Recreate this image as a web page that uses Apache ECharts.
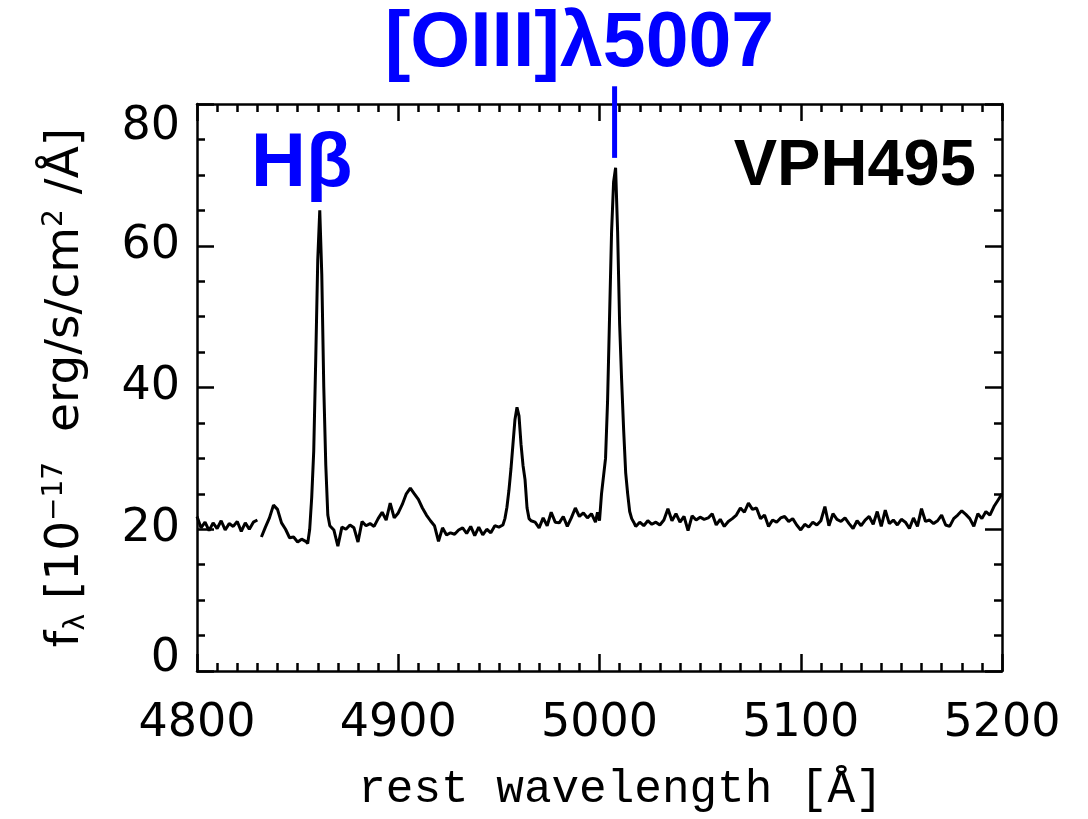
<!DOCTYPE html>
<html>
<head>
<meta charset="utf-8">
<script src="https://cdn.jsdelivr.net/npm/echarts@6/dist/echarts.min.js"></script>
<style>
html,body{margin:0;padding:0;background:#fff;}
#chart{width:1088px;height:819px;}
</style>
</head>
<body>
<div id="chart"></div>
<script>
// ---- data ----
const wavelength = [
4800,4802,4804,4806,4808,4810,4812,4814,4816,4818,4820,4822,4824,4826,4828,4830,4831,
4832,4834,4836,4838,4840,4842,4844,4846,4848,4850,4852,4854,4855,4856,4857,4858,4859,
4860,4861,4862,4863,4864,4865,4866,4868,4870,4872,4874,4876,4878,4880,4882,4884,4886,
4888,4890,4892,4894,4896,4898,4900,4902,4904,4906,4908,4910,4912,4914,4916,4918,4920,
4922,4924,4926,4928,4930,4932,4934,4936,4938,4940,4942,4944,4946,4948,4950,4952,4953,
4954,4955,4956,4957,4958,4959,4960,4961,4962,4963,4964,4965,4966,4968,4970,4972,4974,
4976,4978,4980,4982,4984,4986,4988,4990,4992,4994,4996,4998,4999,5000,5001,5002,5003,
5004,5005,5006,5007,5008,5009,5010,5011,5012,5013,5014,5015,5016,5017,5018,
5020,5022,5024,5026,5028,5030,5032,5034,5036,5038,5040,5042,5044,5046,5048,5050,5052,
5054,5056,5058,5060,5062,5064,5066,5068,5070,5072,5074,5076,5078,5080,5082,5084,5086,
5088,5090,5092,5094,5096,5098,5100,5102,5104,5106,5108,5110,5112,5114,5116,5118,5120,
5122,5124,5126,5128,5130,5132,5134,5136,5138,5140,5142,5144,5146,5148,5150,5152,5154,
5156,5158,5160,5162,5164,5166,5168,5170,5172,5174,5176,5178,5180,5182,5184,5186,5188,
5190,5192,5194,5196,5198,5200
];
const flux = [
21.8,20.2,21.0,19.8,20.9,20.1,21.2,19.9,20.8,20.4,21.1,19.7,20.9,20.0,21.0,21.3,null,
18.9,20.3,21.6,23.4,22.8,20.9,20.0,18.8,18.9,18.2,18.6,18.3,18.0,20.0,24.5,31.0,44.0,
58.0,65.0,56.0,40.0,29.0,22.0,20.5,19.9,17.6,20.3,20.0,20.6,20.2,18.2,21.1,20.5,20.8,
20.4,21.5,22.4,21.3,23.7,21.6,22.3,23.5,25.0,25.8,25.0,24.2,23.0,22.0,21.2,20.5,18.3,
20.2,19.2,19.5,19.3,19.9,20.2,19.4,20.4,19.1,20.3,19.2,20.0,19.5,20.5,20.3,20.6,21.5,
23.1,25.5,28.5,32.0,35.5,37.2,36.0,32.0,29.0,27.0,23.0,21.5,21.2,21.0,20.2,21.6,20.5,
22.4,21.0,20.9,21.8,20.4,21.6,23.0,21.8,22.3,21.6,22.2,21.0,22.4,21.2,25.0,27.5,30.0,
38.0,50.0,62.0,69.0,71.0,62.0,49.0,41.0,34.0,28.0,25.0,22.5,21.5,21.0,20.4,
21.0,20.5,21.2,20.7,21.0,20.6,21.3,22.9,21.2,22.2,21.0,21.8,19.8,21.9,21.3,21.7,21.4,
21.6,22.2,20.6,21.4,20.4,21.1,21.5,22.0,23.0,22.4,23.7,22.8,23.0,21.5,22.0,20.4,21.3,
21.0,21.6,21.8,21.1,21.5,20.6,19.9,20.7,20.3,21.0,20.6,21.2,23.2,20.5,22.2,21.4,21.1,
21.6,20.8,20.1,21.2,20.5,21.3,21.8,20.7,22.5,20.4,22.7,20.8,21.3,20.6,21.4,21.0,20.1,
21.6,20.4,22.9,21.1,21.3,20.8,21.2,22.0,20.6,20.4,21.5,22.0,22.6,22.1,21.5,20.4,22.2,
21.5,22.5,22.0,23.2,24.1,25.0
];
const xTicks = [4800, 4900, 5000, 5100, 5200];
const yTicks = [0, 20, 40, 60, 80];
const lineNames = ['Hβ', '[OIII]λ5007'];
const lineWavelengths = [4861, 5007.5];
const panelName = 'VPH495';

// ---- chart ----
const spectrum = wavelength.map((w, i) => [w, flux[i]]);
const BLUE = '#0000ff';
const axisCommon = {
  type: 'value',
  axisLine: { show: true, onZero: false, lineStyle: { color: '#000', width: 2.5 } },
  axisTick: { show: true, inside: true, length: 17, lineStyle: { color: '#000', width: 2.5 } },
  minorTick: { show: true, length: 8, lineStyle: { color: '#000', width: 2.5 } },
  splitLine: { show: false },
  minorSplitLine: { show: false }
};
const chart = echarts.init(document.getElementById('chart'), null, { renderer: 'canvas' });
chart.setOption({
  animation: false,
  backgroundColor: '#fff',
  grid: { left: 197, right: 86, top: 104, bottom: 148 },
  xAxis: [
    Object.assign({}, axisCommon, {
      position: 'bottom', min: xTicks[0], max: xTicks[xTicks.length - 1], interval: 100,
      minorTick: Object.assign({}, axisCommon.minorTick, { splitNumber: 10 }),
      axisLabel: { show: true, fontSize: 46, color: '#000', margin: 30, fontFamily: 'DejaVu Sans',
        formatter: v => String(v) },
      name: 'rest wavelength [Å]', nameLocation: 'middle', nameGap: 96,
      nameTextStyle: { fontSize: 46, color: '#000', fontFamily: 'Liberation Mono', padding: [0, 0, 0, 42] }
    }),
    Object.assign({}, axisCommon, {
      position: 'top', min: xTicks[0], max: xTicks[xTicks.length - 1], interval: 100,
      minorTick: Object.assign({}, axisCommon.minorTick, { splitNumber: 10 }),
      axisLabel: { show: false }
    })
  ],
  yAxis: [
    Object.assign({}, axisCommon, {
      position: 'left', min: yTicks[0], max: yTicks[yTicks.length - 1], interval: 20,
      minorTick: Object.assign({}, axisCommon.minorTick, { splitNumber: 4 }),
      axisLabel: { show: true, fontSize: 46, color: '#000', margin: 17, fontFamily: 'DejaVu Sans',
        verticalAlignMaxLabel: 'top', verticalAlignMinLabel: 'bottom',
        formatter: v => (v === yTicks[0] ? '{z|' + v + '}' : String(v)),
        rich: { z: { fontSize: 46, lineHeight: 24, fontFamily: 'DejaVu Sans', color: '#000' } } },
      name: '{a|f}{s|λ}{a| [10}{p|−17}{a|  erg/s/cm}{p|2}{a| /Å]}',
      nameLocation: 'middle', nameGap: 106, nameRotate: 90,
      nameTextStyle: {
        color: '#000', fontFamily: 'DejaVu Sans', fontSize: 47,
        rich: {
          a: { fontSize: 47, fontFamily: 'DejaVu Sans', color: '#000' },
          s: { fontSize: 28, fontFamily: 'DejaVu Sans', color: '#000', verticalAlign: 'bottom', padding: [22, 0, 0, 0] },
          p: { fontSize: 28, fontFamily: 'DejaVu Sans', color: '#000', verticalAlign: 'top', padding: [0, 0, 20, 0] }
        }
      }
    }),
    Object.assign({}, axisCommon, {
      position: 'right', min: yTicks[0], max: yTicks[yTicks.length - 1], interval: 20,
      minorTick: Object.assign({}, axisCommon.minorTick, { splitNumber: 4 }),
      axisLabel: { show: false }
    })
  ],
  series: [
    {
      type: 'line', data: spectrum, xAxisIndex: 0, yAxisIndex: 0,
      showSymbol: false, symbol: 'none', connectNulls: false,
      lineStyle: { color: '#000', width: 3 }, z: 3
    },
    {
      // tick mark above the [OIII] line
      type: 'line', xAxisIndex: 0, yAxisIndex: 0, clip: false,
      data: [[lineWavelengths[1], 72.4], [lineWavelengths[1], 82.5]],
      showSymbol: false, symbol: 'none',
      lineStyle: { color: BLUE, width: 5, cap: 'butt' }, z: 4
    },
    {
      type: 'scatter', xAxisIndex: 0, yAxisIndex: 0, clip: false,
      symbolSize: 2, itemStyle: { color: 'rgba(0,0,0,0)', opacity: 1 }, z: 5,
      silent: true,
      data: [
        { value: [4852, 71.4], label: { formatter: lineNames[0], color: BLUE, fontSize: 76, fontWeight: 'bold', align: 'center', verticalAlign: 'middle' } },
        { value: [4990, 88.3], label: { formatter: lineNames[1], color: BLUE, fontSize: 77, fontWeight: 'bold', align: 'center', verticalAlign: 'middle' } },
        { value: [5187, 71.1], label: { formatter: panelName, color: '#000', fontSize: 65, fontWeight: 'bold', align: 'right', verticalAlign: 'middle' } }
      ],
      label: { show: true, position: 'inside', fontFamily: 'Liberation Sans', opacity: 1 }
    }
  ]
});
</script>
</body>
</html>
